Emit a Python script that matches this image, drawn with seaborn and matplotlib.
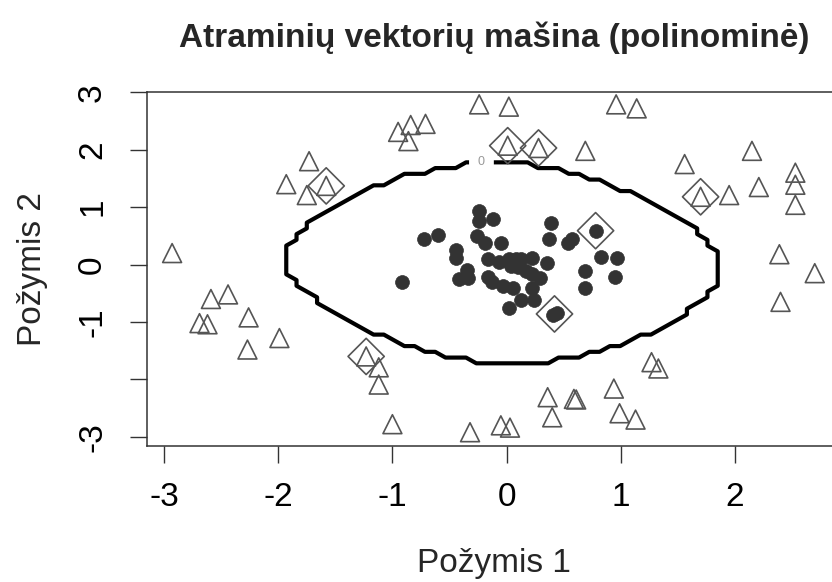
import numpy as np
import pandas as pd
import matplotlib
matplotlib.use("Agg")
import matplotlib.pyplot as plt
import seaborn as sns

# ---------------- data ----------------
title = "Atraminių vektorių mašina (polinominė)"
xlabel = "Požymis 1"
ylabel = "Požymis 2"

# inner class (filled circles)
circ_x = [-0.24, -0.24, -0.12, -0.72, -0.60, -0.26, -0.19, -0.05, -0.44, -0.44,
          0.39, 0.37, 0.54, 0.57, 0.78, 0.83, 0.97, 0.69, 0.95, 0.69,
          -0.92, -0.35, -0.42, -0.34, -0.16, -0.07, 0.02, 0.08, 0.13, 0.22,
          0.35, 0.04, 0.10, 0.17, 0.22, 0.29, -0.16, -0.13, -0.03, 0.06,
          0.22, 0.13, 0.24, 0.02, 0.41, 0.44]
circ_y = [0.94, 0.75, 0.80, 0.44, 0.51, 0.49, 0.38, 0.38, 0.26, 0.12,
          0.72, 0.44, 0.38, 0.44, 0.59, 0.14, 0.12, -0.12, -0.21, -0.40,
          -0.31, -0.09, -0.26, -0.23, 0.09, 0.05, 0.09, 0.10, 0.09, 0.12,
          0.02, -0.03, -0.05, -0.12, -0.17, -0.23, -0.21, -0.30, -0.38, -0.40,
          -0.40, -0.61, -0.61, -0.75, -0.87, -0.84]

# outer class (open triangles)
tri_x = [-0.24, 0.02, 0.96, 1.14, -0.95, -0.84, -0.71, -0.86, -1.73, -1.93,
         -1.75, -1.58, -2.93, 0.01, 0.28, 0.69, 1.56, 2.15, 2.53, 2.53,
         2.21, 1.70, 1.95, 2.53, 2.39, 2.70, 2.40, -2.59, -2.44, -2.69,
         -2.62, -2.26, -1.99, -2.27, -1.23, -1.12, -1.12, -1.00, -0.32, 1.27,
         1.33, 0.94, 0.36, 0.59, 0.61, 0.40, 0.99, 1.13, -0.05, 0.03]
tri_y = [2.79, 2.75, 2.79, 2.72, 2.31, 2.43, 2.45, 2.15, 1.80, 1.40,
         1.21, 1.37, 0.20, 2.07, 2.03, 1.98, 1.75, 1.98, 1.60, 1.39,
         1.35, 1.18, 1.21, 1.04, 0.18, -0.15, -0.65, -0.60, -0.52, -1.02,
         -1.04, -0.92, -1.28, -1.48, -1.60, -1.79, -2.09, -2.78, -2.92, -1.70,
         -1.81, -2.16, -2.31, -2.34, -2.35, -2.66, -2.59, -2.70, -2.80, -2.84]

# support vectors (diamonds)
sv_x = [-1.58, 0.01, 0.28, 1.70, 0.78, 0.42, -1.23]
sv_y = [1.37, 2.07, 2.03, 1.18, 0.59, -0.86, -1.60]

# decision function parameters
dec_cx, dec_cy = -0.03, 0.02
dec_a, dec_b = 1.90, 1.75
dec_p, dec_c = 1.7, 0.12

xlim = (-3.15, 2.93)
ylim = (-3.16, 2.995)
xticks = [-3, -2, -1, 0, 1, 2]
yticks = [-3, -2, -1, 0, 1, 2, 3]
yticklabels = ["-3", "", "-1", "0", "1", "2", "3"]

# ---------------- style ----------------
sns.set_style("ticks")
plt.rcParams["font.family"] = ["Liberation Sans", "DejaVu Sans"]

fig = plt.figure(figsize=(8.32, 5.82), dpi=100)
ax = fig.add_axes([147 / 832, 1 - 446 / 582, (841 - 147) / 832, (446 - 92.3) / 582])

# decision boundary evaluated on a coarse grid (class map -> staircase contour)
gx = np.arange(-3.145, 2.95, 0.09)
gy = np.arange(-3.17, 3.0, 0.10)
GX, GY = np.meshgrid(gx, gy)
u = (GX - dec_cx) / dec_a
v = (GY - dec_cy) / dec_b
F = 1 - (np.abs(u) ** dec_p + np.abs(v) ** dec_p + dec_c * u * v)
cls = np.where(F > 0, 1.0, -1.0)
cs = ax.contour(GX, GY, cls, levels=[0], colors="black", linewidths=3.0, zorder=2)
ax.clabel(cs, fmt={0: "0"}, manual=[(-0.22, 1.78)], inline=True,
          inline_spacing=9, fontsize=9, colors="#999999")

df_c = pd.DataFrame({"x": circ_x, "y": circ_y})
df_t = pd.DataFrame({"x": tri_x, "y": tri_y})
df_s = pd.DataFrame({"x": sv_x, "y": sv_y})

sns.scatterplot(data=df_c, x="x", y="y", ax=ax, marker="o", s=100,
                color="#333333", edgecolor="#333333", linewidth=0.5, zorder=3)
sns.scatterplot(data=df_t, x="x", y="y", ax=ax, marker="^", s=185,
                color="none", edgecolor="#555555", linewidth=1.2, zorder=3)
sns.scatterplot(data=df_s, x="x", y="y", ax=ax, marker="D", s=340,
                color="none", edgecolor="#555555", linewidth=1.2, zorder=4)

ax.set_xlim(*xlim)
ax.set_ylim(*ylim)
ax.set_xticks(xticks)
ax.set_xticklabels([str(t) for t in xticks])
ax.set_yticks(yticks)
ax.set_yticklabels(yticklabels, rotation=90, va="center")
ax.set_xlabel("")
ax.set_ylabel("")

for sp in ax.spines.values():
    sp.set_visible(True)
    sp.set_color("#333333")
    sp.set_linewidth(1.1)
ax.tick_params(axis="both", which="major", bottom=True, left=True,
               direction="out", length=12, width=1.0,
               color="#333333", labelsize=24, labelcolor="black")
ax.tick_params(axis="x", pad=14)
ax.tick_params(axis="y", pad=16)

fig.text(494 / 832, 1 - 47 / 582, title, ha="center", va="baseline",
         fontsize=24, fontweight="bold")
fig.text(494 / 832, 1 - 571.7 / 582, xlabel, ha="center", va="baseline", fontsize=24)
fig.text(33 / 832, 1 - 269 / 582, ylabel, ha="center", va="center",
         rotation=90, fontsize=24)

fig.savefig("out.png", dpi=100)
